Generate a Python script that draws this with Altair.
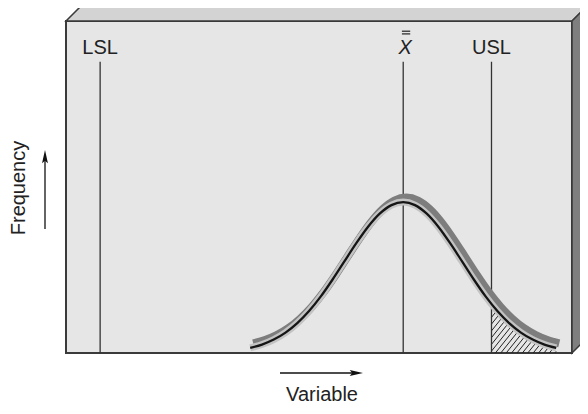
import numpy as np
import pandas as pd
import altair as alt

# ---------------- data ----------------
CURVE_X = [74, 76, 78, 80, 82, 84, 86, 88, 90, 92, 94, 96, 98, 100,
           102, 104, 106, 108, 110, 112, 114, 116, 118, 120, 122, 124, 126]
CURVE_Y = [0.034, 0.056, 0.089, 0.135, 0.198, 0.278, 0.375, 0.487, 0.607, 0.726,
           0.835, 0.923, 0.980, 1.000, 0.980, 0.923, 0.835, 0.726, 0.607, 0.487,
           0.375, 0.278, 0.198, 0.135, 0.089, 0.056, 0.034]
SPEC_NAMES = ["LSL", "USL"]
SPEC_X = [48.5, 115.0]
MEAN_X = 100.0
MEAN_LABEL = "X"
X_DOMAIN = [42.7, 128.68]
Y_DOMAIN = [0.0, 2.2]
LINE_TOP = 1.93
LABEL_Y = 1.98
Y_TITLE = "Frequency"
X_TITLE = "Variable"

# ---------------- layout / style ----------------
W, H = 506, 332
PXX = W / (X_DOMAIN[1] - X_DOMAIN[0])
PXY = H / (Y_DOMAIN[1] - Y_DOMAIN[0])
DEPTH = 16
DX, DY = DEPTH / PXX, DEPTH / PXY
FONT = "Liberation Sans"
EDGE = "#3a3a3a"

xs = alt.Scale(domain=X_DOMAIN, nice=False, zero=False)
ys = alt.Scale(domain=Y_DOMAIN, nice=False, zero=False)
X = lambda f: alt.X(f, type="quantitative", scale=xs, axis=None)
Y = lambda f: alt.Y(f, type="quantitative", scale=ys, axis=None)

x0, x1 = X_DOMAIN
y1 = Y_DOMAIN[1]

# box bevels
top_df = pd.DataFrame({"x": [x0, x0 + DX, x1, x1 + DX],
                       "y": [y1, y1 + DY, y1 + DY, y1 + DY],
                       "y2": [y1, y1, y1, y1 + DY]})
top_face = alt.Chart(top_df).mark_area(fill="#d3d3d3", stroke=EDGE, strokeWidth=1.5).encode(
    x=X("x"), y=Y("y"), y2="y2")
right_df = pd.DataFrame({"x": [x1, x1 + DX], "y": [0, DY], "y2": [y1, y1 + DY]})
right_face = alt.Chart(right_df).mark_area(fill="#7f7f7f", stroke=EDGE, strokeWidth=1.5).encode(
    x=X("x"), y=Y("y"), y2="y2")

# hatching under the tail beyond USL
usl = SPEC_X[1]
k = 1.25 * PXX / PXY
margin = 3.5 / PXY
grid = np.linspace(usl, CURVE_X[-1], 4000)
g = np.interp(grid, CURVE_X, CURVE_Y) - margin
spacing = 5.4 / PXX
rows = []
start0 = usl - (g[0] / k)
for xb in np.arange(start0 + spacing * 0.5, CURVE_X[-1], spacing):
    xs_ = max(usl, xb)
    ys_ = k * (xs_ - xb)
    gs = np.interp(xs_, grid, g)
    if ys_ >= gs:
        continue
    line = k * (grid - xb)
    ok = (grid > xs_) & (line >= g)
    if not ok.any():
        continue
    i = np.argmax(ok)
    rows.append({"x": xs_, "y": ys_, "x2": grid[i], "y2": line[i]})
hatch_df = pd.DataFrame(rows)
hatch = alt.Chart(hatch_df).mark_rule(color="#222", strokeWidth=1).encode(
    x=X("x"), y=Y("y"), x2="x2", y2="y2")

# vertical reference lines
vl_df = pd.DataFrame({"x": [SPEC_X[0], MEAN_X, SPEC_X[1]], "y": [0, 0, 0], "y2": [LINE_TOP] * 3})
vlines = alt.Chart(vl_df).mark_rule(color="#333", strokeWidth=1.3).encode(
    x=X("x"), y=Y("y"), y2="y2")

# curve with shadow
curve_df = pd.DataFrame({"x": CURVE_X, "y": CURVE_Y})
shadow_df = pd.DataFrame({"x": [v + 3 / PXX for v in CURVE_X],
                          "y": [v + 4.5 / PXY for v in CURVE_Y]})
shadow = alt.Chart(shadow_df).mark_line(color="#7d7d7d", strokeWidth=8, interpolate="monotone",
                                        strokeCap="butt").encode(x=X("x"), y=Y("y"))
band = alt.Chart(curve_df).mark_line(color="#c3c3c3", strokeWidth=7, interpolate="monotone",
                                     strokeCap="butt").encode(x=X("x"), y=Y("y"))
curve = alt.Chart(curve_df).mark_line(color="#151515", strokeWidth=2.3, interpolate="monotone",
                                      strokeCap="butt").encode(x=X("x"), y=Y("y"))

# labels
lab_df = pd.DataFrame({"x": SPEC_X, "y": [LABEL_Y] * 2, "t": SPEC_NAMES})
labels = alt.Chart(lab_df).mark_text(font=FONT, fontSize=20, color="#222", align="center",
                                     baseline="alphabetic").encode(x=X("x"), y=Y("y"), text="t:N")
mean_df = pd.DataFrame({"x": [MEAN_X], "y": [LABEL_Y], "t": [MEAN_LABEL]})
mean_lab = alt.Chart(mean_df).mark_text(font=FONT, fontSize=20, fontStyle="italic", color="#222",
                                        align="center", baseline="alphabetic", dx=2).encode(
    x=X("x"), y=Y("y"), text="t:N")
bar_df = pd.DataFrame({"x": [MEAN_X - 1.3 / PXX] * 2, "x2": [MEAN_X + 7 / PXX] * 2,
                       "y": [LABEL_Y + 23 / PXY, LABEL_Y + 20.3 / PXY]})
bars = alt.Chart(bar_df).mark_rule(color="#222", strokeWidth=1.2).encode(
    x=X("x"), x2="x2", y=Y("y"))

# axis arrows and titles
one = pd.DataFrame({"a": [0]})
ARROW_V = "M0,-1L0.42,0.9L0,0.55L-0.42,0.9Z"
ARROW_H = "M1,0L-0.9,0.42L-0.55,0L-0.9,-0.42Z"
v_rule = alt.Chart(one).mark_rule(color="#111", strokeWidth=1.3).encode(
    x=alt.value(-21), y=alt.value(138), y2=alt.value(208))
v_head = alt.Chart(one).mark_point(shape=ARROW_V, size=196, filled=True, color="#111",
                                   opacity=1, strokeWidth=0).encode(x=alt.value(-21), y=alt.value(136))
h_rule = alt.Chart(one).mark_rule(color="#111", strokeWidth=1.3).encode(
    x=alt.value(214), x2=alt.value(288), y=alt.value(352))
h_head = alt.Chart(one).mark_point(shape=ARROW_H, size=196, filled=True, color="#111",
                                   opacity=1, strokeWidth=0).encode(x=alt.value(290), y=alt.value(352))
y_title = alt.Chart(pd.DataFrame({"t": [Y_TITLE]})).mark_text(
    font=FONT, fontSize=20, color="#222", angle=270, align="center", baseline="alphabetic").encode(
    x=alt.value(-41), y=alt.value(167), text="t:N")
x_title = alt.Chart(pd.DataFrame({"t": [X_TITLE]})).mark_text(
    font=FONT, fontSize=20, color="#222", align="center", baseline="alphabetic").encode(
    x=alt.value(256), y=alt.value(380), text="t:N")

chart = alt.layer(
    top_face, right_face, hatch, vlines, shadow, band, curve,
    labels, mean_lab, bars, v_rule, v_head, h_rule, h_head, y_title, x_title
).properties(
    width=W, height=H,
    autosize=alt.AutoSizeParams(type="none"),
    padding={"left": 58, "top": 13, "right": 8, "bottom": 53},
    background="white",
).configure_view(fill="#e6e6e7", stroke=EDGE, strokeWidth=2)

chart.save("out.html", embed_options={"renderer": "svg", "actions": False})
